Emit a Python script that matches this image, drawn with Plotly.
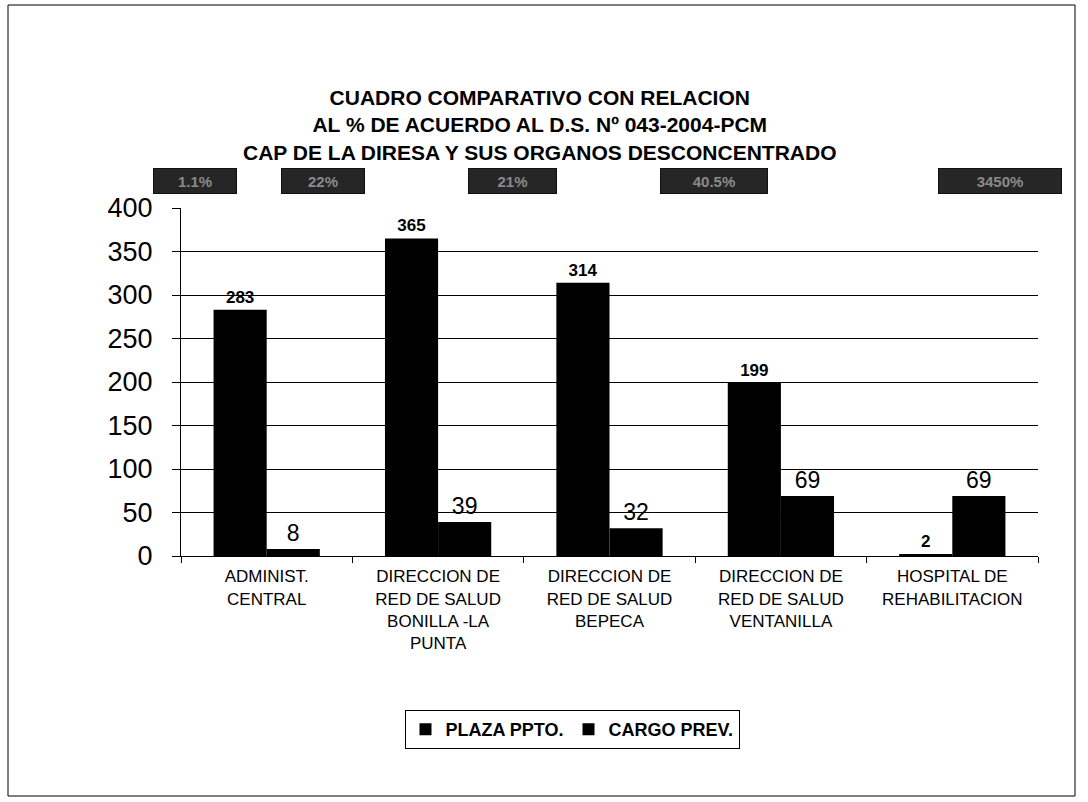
import plotly.graph_objects as go

categories = ["ADMINIST.<br>CENTRAL",
              "DIRECCION DE<br>RED DE SALUD<br>BONILLA -LA<br>PUNTA",
              "DIRECCION DE<br>RED DE SALUD<br>BEPECA",
              "DIRECCION DE<br>RED DE SALUD<br>VENTANILLA",
              "HOSPITAL DE<br>REHABILITACION"]
plaza_ppto = [283, 365, 314, 199, 2]
cargo_prev = [8, 39, 32, 69, 69]
pct_labels = ["1.1%", "22%", "21%", "40.5%", "3450%"]
yticks = [0, 50, 100, 150, 200, 250, 300, 350, 400]

FONT = "Arial, Liberation Sans, sans-serif"

fig = go.Figure()
fig.add_trace(go.Bar(x=categories, y=plaza_ppto, name="<b>PLAZA PPTO.</b>",
                     marker=dict(color="black", line=dict(width=0)),
                     text=["<b>%d</b>" % v for v in plaza_ppto], textposition="outside",
                     textfont=dict(size=17, color="black", family=FONT),
                     cliponaxis=False))
fig.add_trace(go.Bar(x=categories, y=cargo_prev, name="<b>CARGO PREV.</b>",
                     marker=dict(color="black", line=dict(width=0)),
                     text=cargo_prev, textposition="outside",
                     textfont=dict(size=23, color="black", family=FONT),
                     cliponaxis=False))

L, R, T, B = 181, 50, 208, 246
W, H = 1088, 802
pw = W - L - R
ph = H - T - B

def px_x(x):
    return (x - L) / pw

def px_y(y):
    return (H - B - y) / ph

box_centers = [195, 323, 512, 714, 1000]
box_widths = [80, 80, 85, 104, 120]
annotations = []
for cx, bw, lab in zip(box_centers, box_widths, pct_labels):
    annotations.append(dict(x=px_x(cx), y=px_y(181), xref="paper", yref="paper",
                            text="<b>" + lab + "</b>", showarrow=False,
                            width=bw, height=22, bgcolor="#262626",
                            bordercolor="#111111", borderwidth=1,
                            font=dict(size=15, color="#8a8a8a", family=FONT),
                            xanchor="center", yanchor="middle"))

annotations.append(dict(x=px_x(540), y=px_y(125), xref="paper", yref="paper",
                        text="<b>CUADRO COMPARATIVO CON RELACION<br>AL % DE ACUERDO AL D.S. Nº 043-2004-PCM<br>CAP DE LA DIRESA Y SUS ORGANOS DESCONCENTRADO</b>",
                        showarrow=False, xanchor="center", yanchor="middle", align="center",
                        font=dict(size=21, family=FONT, color="black")))

fig.update_layout(
    width=W, height=H,
    margin=dict(l=L, r=R, t=T, b=B, autoexpand=False),
    paper_bgcolor="white", plot_bgcolor="white",
    barmode="group", bargap=0.38, bargroupgap=0,
    font=dict(family=FONT, color="black"),
    showlegend=True,
    legend=dict(orientation="h", x=px_x(572), xanchor="center", y=px_y(710), yanchor="top",
                bordercolor="black", borderwidth=1, bgcolor="white",
                font=dict(size=18, family=FONT, color="black"),
                itemsizing="constant", itemwidth=30, tracegroupgap=0),
    annotations=annotations,
    shapes=[dict(type="rect", xref="paper", yref="paper",
                 x0=px_x(8), x1=px_x(1075), y0=px_y(796), y1=px_y(5),
                 line=dict(color="black", width=1), fillcolor="rgba(0,0,0,0)", layer="below")],
)
fig.update_yaxes(range=[0, 400], tickvals=yticks, showgrid=True, gridcolor="black", gridwidth=1,
                 showline=True, linecolor="black", linewidth=1, ticks="outside", ticklen=8,
                 tickcolor="black", tickfont=dict(size=27, family=FONT, color="black"),
                 ticklabelstandoff=14, zeroline=False)
fig.update_xaxes(showline=True, linecolor="black", linewidth=1, ticks="outside", tickson="boundaries",
                 ticklen=6, tickcolor="black", tickfont=dict(size=17, family=FONT, color="black"),
                 ticklabelstandoff=5, tickangle=0)

fig.write_html("out.html", config={"displayModeBar": False},
               post_script="document.body.style.margin='0px';document.body.style.padding='0px';")
